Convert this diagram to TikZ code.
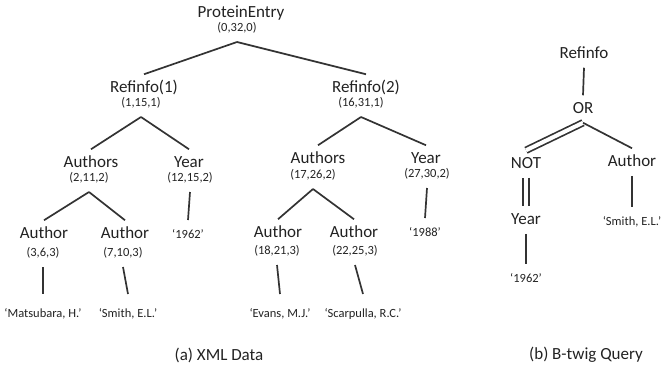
\documentclass[tikz,border=0pt]{standalone}
\usepackage{fontspec}
\setmainfont{Carlito}
\definecolor{ink}{HTML}{222222}
\definecolor{wire}{HTML}{333333}
\tikzset{
  elem/.style={font=\fontsize{17}{20}\selectfont, text=ink, inner sep=0pt,
               text height=12pt, text depth=3.5pt, outer sep=6pt},
  rng/.style={font=\fontsize{12.5}{15}\selectfont, text=ink, inner sep=0pt,
              text height=9pt, text depth=3pt, outer sep=8pt},
  val/.style={rng, outer sep=9pt},
  person/.style={rng, outer sep=14pt},
  edge/.style={draw=wire, line width=1.7pt},
  negedge/.style={edge, double, double distance=4pt},
  subcap/.style={font=\fontsize{17}{20}\selectfont, text=ink}
}

\begin{document}
\begin{tikzpicture}[x=1pt, y=-1pt]
 \useasboundingbox (0,0) rectangle (663,367);
 % document tree, each element with its (start,end,level) range
 \node[elem] (pe) at (241,13) {ProteinEntry};  \node[rng] (pe-t) at (237,28) {(0,32,0)};
 \node[elem] (r1) at (144,88) {Refinfo(1)};    \node[rng] (r1-t) at (141,103) {(1,15,1)};
 \node[elem] (r2) at (366,88) {Refinfo(2)};    \node[rng] (r2-t) at (361,103) {(16,31,1)};
 \node[elem] (a1) at (91,163) {Authors};       \node[rng] (a1-t) at (89,178) {(2,11,2)};
 \node[elem] (y1) at (189,163) {Year};         \node[rng] (y1-t) at (190,178) {(12,15,2)};
 \node[elem] (a2) at (318,159) {Authors};      \node[rng] (a2-t) at (313,175) {(17,26,2)};
 \node[elem] (y2) at (426,159) {Year};         \node[rng] (y2-t) at (427,174) {(27,30,2)};
 \node[elem] (au1) at (44,234) {Author};       \node[rng] (au1-t) at (43,253) {(3,6,3)};
 \node[elem] (au2) at (125,234) {Author};      \node[rng] (au2-t) at (123,253) {(7,10,3)};
 \node[elem] (au3) at (278,233) {Author};      \node[rng] (au3-t) at (277,251) {(18,21,3)};
 \node[elem] (au4) at (354,233) {Author};      \node[rng] (au4-t) at (355,251) {(22,25,3)};
 \node[person] (v1) at (43,314) {`Matsubara, H.'};
 \node[person] (v2) at (128,314) {`Smith, E.L.'};
 \node[person] (v3) at (280,314) {`Evans, M.J.'};
 \node[person] (v4) at (363,314) {`Scarpulla, R.C.'};
 \node[val] (y1v) at (188,235) {`1962'};
 \node[val] (y2v) at (425,233) {`1988'};
 \foreach \p/\c in {pe-t/r1, pe-t/r2, r1-t/a1, r1-t/y1, r2-t/a2, r2-t/y2,
                    a1-t/au1, a1-t/au2, a2-t/au3, a2-t/au4,
                    au1-t/v1, au2-t/v2, au3-t/v3, au4-t/v4, y1-t/y1v, y2-t/y2v}
   \draw[edge] (\p.south) -- (\c.north);

 % query twig
 \node[elem] (qr) at (584,54) {Refinfo};
 \node[elem] (qo) at (583,109) {OR};
 \node[elem] (qn) at (526,164) {NOT};
 \node[elem] (qa) at (632,162) {Author};
 \node[elem] (qy) at (526,220) {Year};
 \node[val] (qyv) at (526,279) {`1962'};
 \node[val] (qav) at (632,222) {`Smith, E.L.'};
 \draw[edge] (qr.south) -- (qo.north);
 \draw[negedge] (qo.south) -- (qn.north);
 \draw[negedge] (qn.south) -- (qy.north);
 \draw[edge] (qo.south) -- (qa.north);
 \draw[edge] (qy.south) -- (qyv.north);
 \draw[edge] (qa.south) -- (qav.north);

 \node[subcap] (capa) at (219,355) {(a) XML Data};
 \node[subcap] (capb) at (586,355) {(b) B-twig Query};
\end{tikzpicture}
\end{document}
